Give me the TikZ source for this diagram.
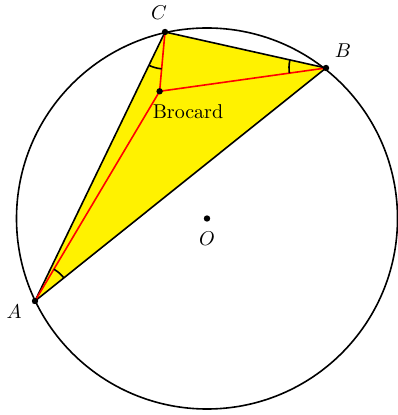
\documentclass[tikz,border=0pt]{standalone}
\begin{document}
\begin{tikzpicture}[x=0.5pt,y=0.5pt,
  edge/.style={line width=0.8pt,black},
  redline/.style={line width=0.8pt,red},
  anglemark/.style={line width=0.8pt,black},
  dot/.style={circle,fill=black,inner sep=0pt,minimum size=3.2pt},
  lbl/.style={inner sep=0pt}]
\useasboundingbox (0,0) rectangle (397,-415);
\coordinate (O) at (207,-218.5);
\coordinate (A) at (35,-301);
\coordinate (B) at (326,-68);
\coordinate (C) at (165,-32);
\coordinate (P) at (159.6,-91.3);
\fill[yellow!100!red!0, fill=yellow] (A) -- (B) -- (C) -- cycle;
\draw[edge] (A) -- (B) -- (C) -- cycle;
\draw[redline] (A) -- (P);
\draw[redline] (B) -- (P);
\draw[redline] (C) -- (P);
\draw[edge] (O) circle[radius=190.5];
\draw[anglemark] (A) ++(38.69:37) arc[start angle=38.69, end angle=59.27, radius=37];
\draw[anglemark] (B) ++(167.40:37) arc[start angle=167.40, end angle=187.98, radius=37];
\draw[anglemark] (C) ++(244.21:37) arc[start angle=244.21, end angle=264.8, radius=37];
\node[dot] (dA) at (A) {};
\node[dot] (dB) at (B) {};
\node[dot] (dC) at (C) {};
\node[dot] (dP) at (P) {};
\node[dot] (dO) at (O) {};
\node[lbl] (lA) at (14,-312) {$A$};
\node[lbl] (lB) at (343,-51) {$B$};
\node[lbl] (lC) at (159,-13) {$C$};
\node[lbl] (lO) at (207,-239) {$O$};
\node[lbl] (lP) at (188,-112) {Brocard};
\end{tikzpicture}
\end{document}
